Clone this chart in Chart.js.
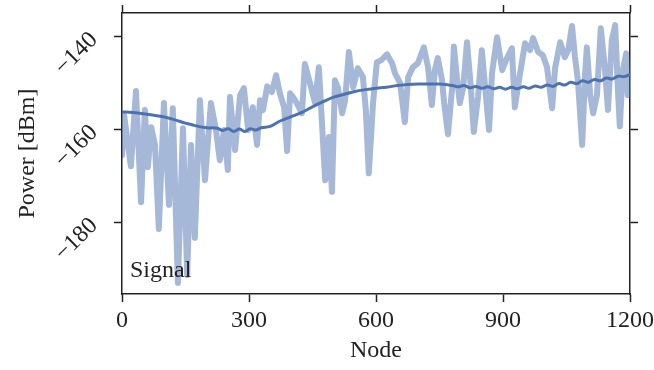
<!DOCTYPE html>
<html>
<head>
<meta charset="utf-8">
<script src="https://cdn.jsdelivr.net/npm/chart.js@4.4.1/dist/chart.umd.min.js"></script>
<style>
  html, body { margin: 0; padding: 0; background: #fff; }
  #wrap { width: 654px; height: 370px; }
</style>
</head>
<body>
<div id="wrap"><canvas id="chart-signal" width="654" height="370"></canvas></div>
<script>
(function () {
    'use strict';

    /* --- Data --- */
    var signalNodes = [
        0, 5, 21, 33, 45, 54, 61, 69, 78, 87,
        99, 111, 120, 132, 144, 154, 163, 172, 184, 196,
        210, 222, 231, 241, 250, 255, 267, 279, 288, 298,
        309, 319, 326, 333, 343, 354, 364, 373, 383, 390,
        397, 404, 413, 425, 432, 444, 456, 465, 472, 480,
        489, 496, 503, 510, 520, 527, 536, 546, 557, 569,
        576, 583, 593, 602, 612, 626, 638, 645, 657, 668,
        676, 687, 699, 713, 723, 732, 739, 746, 756, 761,
        770, 780, 784, 791, 798, 806, 815, 824, 831, 841,
        850, 860, 867, 874, 886, 898, 907, 921, 928, 935,
        952, 964, 971, 983, 994, 1004, 1016, 1023, 1035, 1046,
        1054, 1063, 1070, 1077, 1087, 1094, 1098, 1106, 1113, 1122,
        1131, 1141, 1148, 1157, 1165, 1172, 1176, 1183, 1191, 1195,
        1200
    ];
    var signalPower = [
        -165.6, -157.0, -168.0, -151.8, -175.7, -155.9, -168.2, -159.6, -163.4, -181.5,
        -154.4, -176.3, -155.5, -193.1, -159.8, -191.4, -163.4, -183.4, -153.8, -171.0,
        -154.4, -160.2, -166.7, -160.2, -168.8, -153.1, -164.5, -152.7, -151.2, -160.2,
        -155.3, -163.4, -153.8, -155.9, -150.8, -152.0, -148.4, -152.3, -155.3, -164.7,
        -152.3, -153.1, -154.4, -156.6, -146.0, -150.1, -154.4, -146.7, -158.1, -171.0,
        -161.7, -173.5, -149.5, -151.0, -156.6, -153.8, -143.4, -151.0, -146.9, -148.8,
        -155.9, -169.5, -154.4, -145.6, -145.2, -143.9, -145.8, -148.0, -150.1, -158.5,
        -148.8, -146.7, -145.8, -142.4, -146.7, -154.8, -147.3, -144.7, -149.5, -154.4,
        -161.1, -151.0, -142.2, -148.8, -154.4, -151.0, -141.3, -151.0, -160.6, -153.1,
        -143.0, -153.1, -160.2, -148.0, -140.2, -147.3, -145.2, -142.6, -155.3, -151.0,
        -141.5, -143.0, -140.4, -143.4, -144.1, -146.7, -155.5, -146.9, -141.3, -144.5,
        -143.0, -137.8, -144.5, -149.5, -163.4, -148.0, -142.4, -152.7, -156.6, -152.7,
        -138.3, -147.3, -155.9, -140.9, -137.6, -152.7, -159.4, -147.3, -143.7, -152.7,
        -147.3
    ];

    var trendNodes = [
        0, 25, 50, 75, 100, 125, 150, 175, 200, 225,
        238, 251, 264, 277, 290, 303, 316, 329, 350, 375,
        400, 425, 450, 475, 500, 525, 550, 575, 600, 625,
        650, 675, 700, 725, 750, 780, 794, 808, 822, 836,
        850, 864, 878, 892, 906, 920, 934, 948, 962, 976,
        990, 1004, 1018, 1032, 1046, 1060, 1074, 1088, 1102, 1116,
        1130, 1144, 1158, 1172, 1186, 1200
    ];
    var trendPower = [
        -156.3, -156.4, -156.7, -157.0, -157.4, -158.0, -158.7, -159.3, -159.7, -159.8,
        -160.3, -159.9, -160.5, -160.0, -160.5, -159.9, -160.2, -159.7, -159.4, -158.2,
        -157.3, -156.4, -155.2, -154.1, -153.1, -152.5, -151.9, -151.5, -151.2, -151.0,
        -150.6, -150.4, -150.3, -150.3, -150.3, -150.6, -150.9, -150.6, -151.1, -150.8,
        -151.2, -150.9, -151.3, -151.0, -151.4, -151.0, -151.3, -150.9, -151.2, -150.7,
        -151.0, -150.5, -150.8, -150.2, -150.5, -149.9, -150.2, -149.6, -149.9, -149.3,
        -149.6, -149.0, -149.2, -148.6, -148.7, -148.2
    ];

    var xTicks = [0, 300, 600, 900, 1200];
    var yTicks = [-180, -160, -140];

    /* --- Styles --- */
    var blue      = '#4c72b0';
    var blueLight = 'rgba(76,114,176,0.5)';
    var axisColor = '#222';
    var serif     = "'Liberation Serif', 'DejaVu Serif', serif";

    function toXY(xs, ys) {
        return xs.map(function (x, i) { return { x: x, y: ys[i] }; });
    }

    function minus(v) {
        return String(v).replace('-', '\u2212');
    }

    function fixTicks(list) {
        return function (scale) {
            scale.ticks = list.map(function (v) { return { value: v }; });
        };
    }

    // pin the box size and drop the label overhang padding
    function fixSize(prop, size) {
        return function (scale) {
            scale[prop] = size;
            scale.paddingLeft = 0;
            scale.paddingRight = 0;
            scale.paddingTop = 0;
            scale.paddingBottom = 0;
        };
    }

    var gridOpts = {
        drawOnChartArea: false,
        drawTicks: true,
        tickLength: 8,
        tickWidth: 1.5,
        tickColor: axisColor
    };
    var borderOpts = { display: true, color: axisColor, width: 1.5 };

    /* "Signal" label inside the plot */
    var cornerLabel = {
        id: 'cornerLabel',
        afterDatasetsDraw: function (chart) {
            var a = chart.chartArea;
            var ctx = chart.ctx;
            ctx.save();
            ctx.font = '24px ' + serif;
            ctx.fillStyle = '#222';
            ctx.textAlign = 'left';
            ctx.textBaseline = 'alphabetic';
            ctx.fillText('Signal', a.left + 8, a.bottom - 17);
            ctx.restore();
        }
    };

    new Chart(document.getElementById('chart-signal'), {
        type: 'line',
        data: {
            datasets: [
                {
                    label: 'Signal',
                    data: toXY(signalNodes, signalPower),
                    borderColor: blueLight,
                    borderWidth: 6,
                    borderJoinStyle: 'round',
                    borderCapStyle: 'round',
                    pointRadius: 0,
                    tension: 0,
                    fill: false,
                    order: 2
                },
                {
                    label: 'Trend',
                    data: toXY(trendNodes, trendPower),
                    borderColor: blue,
                    borderWidth: 3,
                    pointRadius: 0,
                    tension: 0.4,
                    fill: false,
                    order: 1
                }
            ]
        },
        options: {
            responsive: false,
            animation: false,
            layout: { padding: 0 },
            plugins: {
                legend: { display: false },
                tooltip: { enabled: false }
            },
            scales: {
                x: {
                    type: 'linear',
                    position: 'bottom',
                    min: 0,
                    max: 1200,
                    afterBuildTicks: fixTicks(xTicks),
                    afterFit: fixSize('height', 76),
                    grid: gridOpts,
                    border: borderOpts,
                    ticks: {
                        color: '#222',
                        padding: 4,
                        maxRotation: 0,
                        font: { family: serif, size: 24 },
                        callback: function (v) { return String(v); }
                    },
                    title: {
                        display: true,
                        text: 'Node',
                        color: '#222',
                        padding: { top: 0, bottom: 5 },
                        font: { family: serif, size: 24 }
                    }
                },
                x2: {
                    type: 'linear',
                    position: 'top',
                    min: 0,
                    max: 1200,
                    afterBuildTicks: fixTicks(xTicks),
                    afterFit: fixSize('height', 13),
                    grid: gridOpts,
                    border: borderOpts,
                    ticks: { display: false }
                },
                y: {
                    type: 'linear',
                    position: 'left',
                    min: -195.5,
                    max: -135,
                    afterBuildTicks: fixTicks(yTicks),
                    afterFit: fixSize('width', 122),
                    grid: gridOpts,
                    border: borderOpts,
                    ticks: {
                        color: '#222',
                        padding: 20,
                        minRotation: 45,
                        maxRotation: 45,
                        font: { family: serif, size: 24 },
                        callback: function (v) { return minus(v); }
                    },
                    title: {
                        display: true,
                        text: 'Power [dBm]',
                        color: '#222',
                        padding: { top: 13, bottom: 0 },
                        font: { family: serif, size: 24 }
                    }
                },
                y2: {
                    type: 'linear',
                    position: 'right',
                    min: -195.5,
                    max: -135,
                    afterBuildTicks: fixTicks(yTicks),
                    afterFit: fixSize('width', 24),
                    grid: gridOpts,
                    border: borderOpts,
                    ticks: { display: false }
                }
            }
        },
        plugins: [cornerLabel]
    });

})();
</script>
</body>
</html>
